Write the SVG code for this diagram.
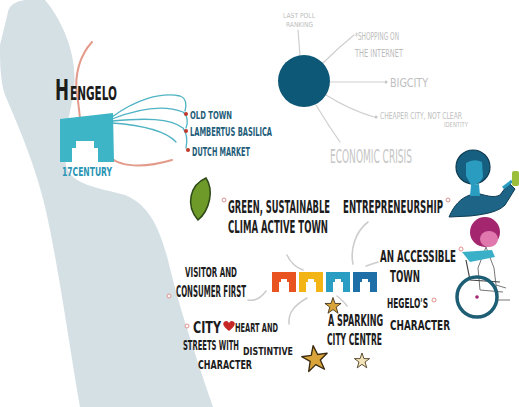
<svg xmlns="http://www.w3.org/2000/svg" width="519" height="407" viewBox="0 0 519 407">
  <style>
    .hand { font-family: "Liberation Sans Narrow", "DejaVu Sans Condensed", "Liberation Sans", sans-serif; font-weight: bold; fill: #1c1c1c; }
    .faint { font-family: "Liberation Sans Narrow", "DejaVu Sans Condensed", "Liberation Sans", sans-serif; fill: #bdbdbd; }
    .teal { font-family: "Liberation Sans Narrow", "DejaVu Sans Condensed", "Liberation Sans", sans-serif; font-weight: bold; fill: #1f5d7a; }
    .spoke { stroke: #cfcfcf; stroke-width: 1.2; fill: none; stroke-linecap: round; }
    .link { stroke: #cdcdcd; stroke-width: 1.6; fill: none; stroke-linecap: round; }
    .fan { stroke: #4fb3c3; stroke-width: 1.3; fill: none; stroke-linecap: round; }
    .arc { stroke: #e39b8b; stroke-width: 2; fill: none; stroke-linecap: round; }
    .pin { fill: #ffffff; stroke: #e08f8f; stroke-width: 1; }
    .bullet { fill: #c0392b; }
    .star { stroke: #3a2a10; stroke-width: 1; stroke-linejoin: round; }
  </style>
  <defs>
    <path id="blk" d="M0,0 L24,0 L24,20 L17,20 L17,10 L15,10 L15,7 L9,7 L9,10 L7,10 L7,20 L0,20 Z"/>
    <path id="starShape" d="M0,-10 L2.4,-3 L9.5,-3 L3.8,1.3 L5.9,8.5 L0,4.2 L-5.9,8.5 L-3.8,1.3 L-9.5,-3 L-2.4,-3 Z"/>
  </defs>

  <rect width="519" height="407" fill="#ffffff"/>

  <!-- river band down the left side -->
  <path d="M8,12 Q10,2 25,0 L45,0 C62,20 78,55 74,90 C70,115 62,140 66,165 C70,185 100,188 125,195 C150,205 160,230 168,260 C176,295 190,340 213,407 L80,407 C70,350 62,290 50,230 C40,175 20,130 5,95 C0,80 0,60 0,45 Z" fill="#d5e0e5"/>

  <!-- connectors -->
  <g id="connectors">
    <path class="arc" d="M92,42 C80,55 74,75 77,95 C79,105 79,112 80,118"/>
    <path class="arc" d="M108,155 C118,168 145,168 172,160"/>
    <path class="fan" d="M112,117 C135,100 160,92 180,96 C186,98 187,105 185,111"/>
    <path class="fan" d="M112,119 C140,108 165,105 183,112 C188,116 188,123 186,128"/>
    <path class="fan" d="M112,121 C145,118 170,118 183,128 C188,135 187,143 186,148"/>
    <path class="fan" d="M112,123 C140,125 165,130 176,142"/>

    <path class="spoke" d="M300,55 L298,30"/>
    <path class="spoke" d="M323,63 Q338,48 354,35"/>
    <path class="spoke" d="M330,82 L384,82"/>
    <path class="spoke" d="M326,95 Q350,110 374,117"/>
    <path class="spoke" d="M316,105 Q328,125 340,142"/>

    <path class="link" d="M287,255 Q292,266 303,270"/>
    <path class="link" d="M368,222 C355,232 350,250 353,264"/>
    <path class="link" d="M366,266 L378,262"/>
    <path class="link" d="M248,300 Q258,302 266,291"/>
    <path class="link" d="M307,298 C295,305 288,312 289,324"/>
    <path class="link" d="M337,296 C342,300 345,303 347,306"/>
  </g>

  <!-- Hengelo heritage -->
  <g id="hengelo">
    <text class="hand" x="55" y="100" font-size="29" textLength="14" lengthAdjust="spacingAndGlyphs">H</text>
    <text class="hand" x="70" y="100" font-size="20" textLength="47" lengthAdjust="spacingAndGlyphs">ENGELO</text>
    <path d="M60,119 L113,113 L114,162 L98,162 L98,148 L94,148 L94,141 L76,141 L76,148 L72,148 L72,162 L60,162 Z" fill="#3db5c6"/>
    <text class="teal" x="62" y="176" font-size="13" style="fill:#2a95b5" textLength="50" lengthAdjust="spacingAndGlyphs">17CENTURY</text>
  </g>

  <g id="heritage-list">
    <circle class="bullet" cx="186" cy="114" r="2"/>
    <text class="teal" x="190" y="119" font-size="11" textLength="42" lengthAdjust="spacingAndGlyphs">OLD TOWN</text>
    <circle class="bullet" cx="186" cy="131" r="2"/>
    <text class="teal" x="190" y="136" font-size="12" textLength="82" lengthAdjust="spacingAndGlyphs">LAMBERTUS BASILICA</text>
    <circle class="bullet" cx="188" cy="150" r="2"/>
    <text class="teal" x="192" y="156" font-size="12" textLength="58" lengthAdjust="spacingAndGlyphs">DUTCH MARKET</text>
  </g>

  <!-- threats around the dark circle -->
  <g id="threats">
    <circle cx="304" cy="81" r="26" fill="#0e5877"/>
  </g>
  <g id="ranking">
    <text class="faint" x="283" y="18" font-size="7" textLength="32" lengthAdjust="spacingAndGlyphs">LAST POLL</text>
    <text class="faint" x="286" y="27" font-size="7" textLength="27" lengthAdjust="spacingAndGlyphs">RANKING</text>
  </g>
  <g id="shopping">
    <text class="faint" x="355" y="40" font-size="11" textLength="44" lengthAdjust="spacingAndGlyphs">*SHOPPING ON</text>
    <text class="faint" x="355" y="57" font-size="11" textLength="48" lengthAdjust="spacingAndGlyphs">THE INTERNET</text>
  </g>
  <g id="bigcity">
    <circle cx="386" cy="82" r="1.5" fill="#c4c4c4"/>
    <text class="faint" x="390" y="87" font-size="12" textLength="38" lengthAdjust="spacingAndGlyphs">BIGCITY</text>
  </g>
  <g id="cheaper">
    <circle cx="376" cy="117" r="1.5" fill="#c4c4c4"/>
    <text class="faint" x="380" y="119" font-size="8.5" textLength="82" lengthAdjust="spacingAndGlyphs">CHEAPER CITY, NOT CLEAR</text>
    <text class="faint" x="444" y="127" font-size="7" textLength="24" lengthAdjust="spacingAndGlyphs">IDENTITY</text>
  </g>
  <g id="crisis">
    <text class="faint" x="330" y="163" font-size="20" textLength="82" lengthAdjust="spacingAndGlyphs" style="fill:#c6c6c6">ECONOMIC CRISIS</text>
  </g>

  <!-- ambitions -->
  <g id="green">
    <path d="M206,178 C190,185 185,205 198,220 C210,210 214,190 206,178 Z" fill="#6d9a28" stroke="#2f4a18" stroke-width="1.5"/>
    <circle class="pin" cx="224" cy="200" r="2"/>
    <text class="hand" x="228" y="213" font-size="17" textLength="102" lengthAdjust="spacingAndGlyphs">GREEN, SUSTAINABLE</text>
    <text class="hand" x="228" y="233" font-size="17" textLength="100" lengthAdjust="spacingAndGlyphs">CLIMA ACTIVE TOWN</text>
  </g>

  <g id="entrepreneurship">
    <text class="hand" x="343" y="213" font-size="17" textLength="100" lengthAdjust="spacingAndGlyphs">ENTREPRENEURSHIP</text>
    <circle class="pin" cx="448" cy="200" r="2"/>
    <path d="M449,217 C454,205 461,198 470,195 L480,194 C488,196 494,198 500,195 L509,183 L515,189 L505,205 C499,211 489,214 470,216 Z" fill="#1e6487" stroke="#0d3b52" stroke-width="1"/>
    <circle cx="473" cy="167" r="17" fill="#175f80" stroke="#0d3b52" stroke-width="1.2"/>
    <path d="M466,163 Q474,158 482,162 L483,177 Q479,186 471,185 L466,176 Z" fill="#2a9cbf"/>
    <path d="M471,185 L470,196 L480,196 L479,184" fill="#2a9cbf"/>
    <path d="M503,188 L512,181" stroke="#2a9cbf" stroke-width="3"/>
    <rect x="512" y="171" width="7" height="15" rx="2" fill="#9bbf3a"/>
  </g>

  <g id="accessible">
    <text class="hand" x="380" y="262" font-size="16" textLength="76" lengthAdjust="spacingAndGlyphs">AN ACCESSIBLE</text>
    <circle class="pin" cx="461" cy="249" r="2"/>
    <text class="hand" x="390" y="282" font-size="15" textLength="30" lengthAdjust="spacingAndGlyphs">TOWN</text>
    <path d="M486,247 L478,268 M486,247 L494,268 L496,285 L506,288 M478,268 L480,290 L503,292 M496,285 L497,300 L510,300" stroke="#777" stroke-width="1" fill="none"/>
    <circle cx="485" cy="232" r="15" fill="#a3266e"/>
    <ellipse cx="489" cy="239" rx="9" ry="8" fill="#e078ae"/>
    <path d="M462,252 L492,250 L495,257 L470,262 Z" fill="#3ab0c8"/>
    <path d="M466,260 L470,280 L500,282" stroke="#444" stroke-width="1.2" fill="none"/>
    <circle cx="477" cy="297" r="20" fill="none" stroke="#1e5e74" stroke-width="3.5"/>
    <circle cx="477" cy="297" r="1.8" fill="#a3266e"/>
  </g>

  <g id="character">
    <text class="hand" x="387" y="308" font-size="14" textLength="41" lengthAdjust="spacingAndGlyphs">HEGELO'S</text>
    <circle class="pin" cx="434" cy="300" r="2"/>
    <text class="hand" x="390" y="330" font-size="14" textLength="60" lengthAdjust="spacingAndGlyphs">CHARACTER</text>
  </g>

  <g id="visitor">
    <text class="hand" x="185" y="277" font-size="14" textLength="52" lengthAdjust="spacingAndGlyphs">VISITOR AND</text>
    <circle class="pin" cx="169" cy="296" r="2"/>
    <text class="hand" x="176" y="297" font-size="15" textLength="70" lengthAdjust="spacingAndGlyphs">CONSUMER FIRST</text>
  </g>

  <g id="city-heart">
    <circle class="pin" cx="187" cy="326" r="2"/>
    <text class="hand" x="193" y="333" font-size="16" textLength="28" lengthAdjust="spacingAndGlyphs">CITY</text>
    <path d="M229,331 C224,327 222,324 224,322 C226,320 228,321 229,323 C230,321 232,320 234,322 C236,324 234,327 229,331 Z" fill="#c62828"/>
    <text class="hand" x="235" y="332" font-size="12" textLength="43" lengthAdjust="spacingAndGlyphs">HEART AND</text>
    <text class="hand" x="183" y="350" font-size="14" textLength="56" lengthAdjust="spacingAndGlyphs">STREETS WITH</text>
    <text class="hand" x="243" y="355" font-size="10" textLength="50" lengthAdjust="spacingAndGlyphs">DISTINTIVE</text>
    <text class="hand" x="198" y="369" font-size="12" textLength="54" lengthAdjust="spacingAndGlyphs">CHARACTER</text>
  </g>

  <g id="sparkling">
    <text class="hand" x="328" y="326" font-size="16" textLength="55" lengthAdjust="spacingAndGlyphs">A SPARKING</text>
    <text class="hand" x="327" y="345" font-size="15" textLength="55" lengthAdjust="spacingAndGlyphs">CITY CENTRE</text>
    <use href="#starShape" class="star" fill="#d9a53a" transform="translate(333,306) scale(0.85)"/>
    <use href="#starShape" class="star" fill="#d9a53a" transform="translate(315,359) scale(1.35) rotate(-8)"/>
    <use href="#starShape" class="star" fill="#f3e3b8" transform="translate(362,361) scale(0.8)"/>
  </g>

  <!-- central town blocks -->
  <g id="town-blocks">
    <use href="#blk" x="272" y="272" fill="#e8531f"/>
    <use href="#blk" x="299" y="272" fill="#f3b516"/>
    <use href="#blk" x="326" y="272" fill="#2a9dc2"/>
    <use href="#blk" x="353" y="272" fill="#1e6ea8"/>
  </g>
</svg>
